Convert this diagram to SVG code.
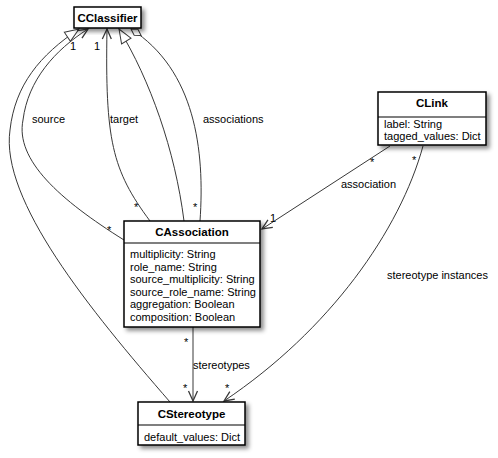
<svg xmlns="http://www.w3.org/2000/svg" width="498" height="458" viewBox="0 0 498 458">
<style>
  .box { fill: #ffffff; stroke: #000000; stroke-width: 1.5; filter: url(#shadow); }
  .sep { stroke: #000000; stroke-width: 1.2; }
  .title { font-family: "Liberation Sans", Arial, sans-serif; font-size: 11.5px; font-weight: bold; text-anchor: middle; fill: #000; }
  .attr { font-family: "Liberation Sans", Arial, sans-serif; font-size: 11px; fill: #000; }
  .lbl { font-family: "Liberation Sans", Arial, sans-serif; font-size: 11px; fill: #000; }
  .edge { fill: none; stroke: #383838; stroke-width: 1; }
</style>
<defs>
  <filter id="shadow" x="-20%" y="-20%" width="140%" height="150%">
    <feDropShadow dx="3" dy="3" stdDeviation="2" flood-color="#000000" flood-opacity="0.45"/>
  </filter>
  <marker id="open" markerUnits="userSpaceOnUse" markerWidth="14" markerHeight="12" refX="11" refY="5" orient="auto" overflow="visible">
    <path d="M1,0.5 L11,5 L1,9.5" fill="none" stroke="#383838" stroke-width="1.3"/>
  </marker>
  <marker id="tri" markerUnits="userSpaceOnUse" markerWidth="16" markerHeight="13" refX="14" refY="5.5" orient="auto" overflow="visible">
    <path d="M0,0 L14,5.5 L0,11 Z" fill="#ffffff" stroke="#383838" stroke-width="1"/>
  </marker>
  <marker id="dia" markerUnits="userSpaceOnUse" markerWidth="14" markerHeight="9" refX="12" refY="3.5" orient="auto" overflow="visible">
    <path d="M0,3.5 L6,0 L12,3.5 L6,7 Z" fill="#ffffff" stroke="#383838" stroke-width="1"/>
  </marker>
</defs>
<rect width="498" height="458" fill="#ffffff"/>

<g id="connectors">
  <!-- CStereotype generalizes CClassifier -->
  <path class="edge" d="M170,402 C90,310 0,200 10,130 C15,85 40,55 79,29" marker-end="url(#tri)"/>
  <!-- source -->
  <path class="edge" d="M124,240 C60,200 15,160 23,120 C28,80 55,50 88,29" marker-end="url(#open)"/>
  <!-- target -->
  <path class="edge" d="M150,221 C112,170 105,140 107,29" marker-end="url(#open)"/>
  <!-- CAssociation generalizes CClassifier -->
  <path class="edge" d="M184,221 C175,150 150,80 119,29" marker-end="url(#tri)"/>
  <!-- associations -->
  <path class="edge" d="M200,221 C205,150 195,70 131,29" marker-end="url(#dia)"/>
  <!-- CLink association -->
  <path class="edge" d="M390,146 L262,229" marker-end="url(#open)"/>
  <!-- stereotype instances -->
  <path class="edge" d="M423,146 C400,230 330,330 224,401" marker-end="url(#open)"/>
  <!-- stereotypes -->
  <path class="edge" d="M193,327 L193,401" marker-end="url(#open)"/>

  <text class="lbl" x="70" y="50">1</text>
  <text class="lbl" x="94" y="50">1</text>
  <text class="lbl" x="32" y="123">source</text>
  <text class="lbl" x="110" y="123">target</text>
  <text class="lbl" x="203" y="123">associations</text>
  <text class="lbl" x="134" y="211">*</text>
  <text class="lbl" x="193" y="211">*</text>
  <text class="lbl" x="107" y="234">*</text>
  <text class="lbl" x="370" y="166">*</text>
  <text class="lbl" x="341" y="188">association</text>
  <text class="lbl" x="270" y="222">1</text>
  <text class="lbl" x="412" y="164">*</text>
  <text class="lbl" x="387" y="279">stereotype instances</text>
  <text class="lbl" x="184" y="346">*</text>
  <text class="lbl" x="193" y="369">stereotypes</text>
  <text class="lbl" x="183" y="392">*</text>
  <text class="lbl" x="225" y="392">*</text>
</g>

<g id="CClassifier">
  <rect class="box" x="74" y="7" width="67" height="21"/>
  <text class="title" x="107.5" y="22">CClassifier</text>
</g>

<g id="CLink">
  <rect class="box" x="378" y="92" width="108" height="53"/>
  <line class="sep" x1="378" y1="117" x2="486" y2="117"/>
  <text class="title" x="432" y="106.5">CLink</text>
  <text class="attr" x="384" y="127.5">label: String</text>
  <text class="attr" x="384" y="140.2">tagged_values: Dict</text>
</g>

<g id="CAssociation">
  <rect class="box" x="124" y="221" width="136" height="106"/>
  <line class="sep" x1="124" y1="243" x2="260" y2="243"/>
  <text class="title" x="192" y="236">CAssociation</text>
  <text class="attr" x="130" y="258">multiplicity: String</text>
  <text class="attr" x="130" y="270.5">role_name: String</text>
  <text class="attr" x="130" y="283">source_multiplicity: String</text>
  <text class="attr" x="130" y="295.5">source_role_name: String</text>
  <text class="attr" x="130" y="308">aggregation: Boolean</text>
  <text class="attr" x="130" y="320.5">composition: Boolean</text>
</g>

<g id="CStereotype">
  <rect class="box" x="138" y="402" width="107" height="43"/>
  <line class="sep" x1="138" y1="425" x2="245" y2="425"/>
  <text class="title" x="191.5" y="417.5">CStereotype</text>
  <text class="attr" x="144" y="440.5">default_values: Dict</text>
</g>
</svg>
